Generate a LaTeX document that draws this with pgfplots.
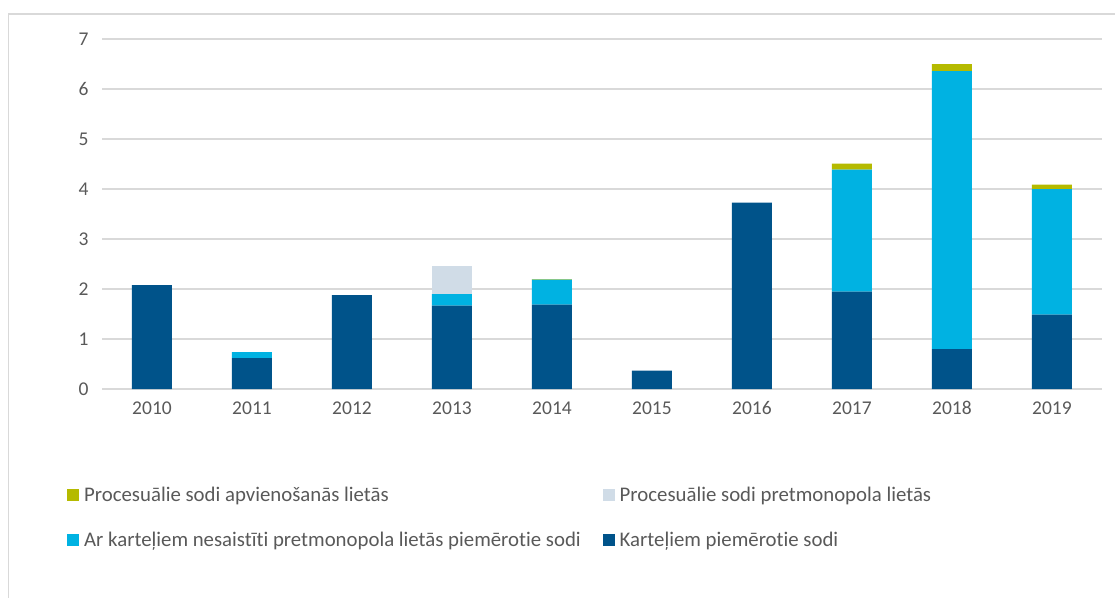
\documentclass[border=0pt]{standalone}
\usepackage{pgfplots}
\pgfplotsset{compat=1.18}
\usepackage{fontspec}
\setmainfont{Carlito}[Ligatures=NoCommon]
\definecolor{cdark}{HTML}{00538A}
\definecolor{ccyan}{HTML}{00B2E2}
\definecolor{cgrey}{HTML}{D0DCE7}
\definecolor{colive}{HTML}{B5BA00}
\definecolor{ctext}{HTML}{595959}
\definecolor{cgrid}{HTML}{D9D9D9}
\begin{document}
\begin{tikzpicture}
\useasboundingbox (-102bp,-209bp) rectangle (1013bp,389bp);
\draw[cgrid, line width=1.2bp] (-93.5bp,-209bp) -- (-93.5bp,375bp) -- (1013bp,375bp);
\begin{axis}[
  at={(0,0)}, anchor=south west,
  scale only axis, width=1000bp, height=350bp,
  ybar stacked, bar width=40bp,
  xmin=-0.5, xmax=9.5, ymin=0, ymax=7,
  xtick={0,...,9},
  xticklabels={2010,2011,2012,2013,2014,2015,2016,2017,2018,2019},
  ytick={0,...,7},
  ymajorgrids, grid style={cgrid, line width=1.2bp},
  axis line style={draw=none},
  major tick length=0pt,
  tick label style={font=\fontsize{19.5bp}{23bp}\selectfont, text=ctext},
  yticklabel style={xshift=-10bp},
  xticklabel style={yshift=-9bp},
  /pgf/number format/assume math mode=true,
  reverse legend,
  legend columns=2,
  legend cell align=left,
  legend style={at={(-35bp,-95.5bp)}, anchor=north west, draw=none, fill=none,
    font=\fontsize{20.8bp}{24bp}\selectfont, text=ctext,
    /tikz/column 2/.style={column sep=20bp},
    row sep=25bp, inner sep=0pt},
  legend image code/.code={\fill[#1] (0bp,-6bp) rectangle (12bp,6bp); \path (15bp,0bp);},
]
\addplot[fill=cdark, draw=none] coordinates {(0,2.08) (1,0.62) (2,1.88) (3,1.67) (4,1.69) (5,0.37) (6,3.73) (7,1.95) (8,0.80) (9,1.49)};
\addlegendentry{Karteļiem piemērotie sodi}
\addplot[fill=ccyan, draw=none] coordinates {(0,0) (1,0.12) (2,0) (3,0.23) (4,0.50) (5,0) (6,0) (7,2.44) (8,5.56) (9,2.51)};
\addlegendentry{Ar karteļiem nesaistīti pretmonopola lietās piemērotie sodi}
\addplot[fill=cgrey, draw=none] coordinates {(0,0) (1,0) (2,0) (3,0.57) (4,0) (5,0) (6,0) (7,0) (8,0) (9,0)};
\addlegendentry{Procesuālie sodi pretmonopola lietās}
\addplot[fill=colive, draw=none] coordinates {(0,0) (1,0) (2,0) (3,0) (4,0.01) (5,0) (6,0) (7,0.12) (8,0.14) (9,0.09)};
\addlegendentry{Procesuālie sodi apvienošanās lietās}
\end{axis}
\end{tikzpicture}
\end{document}
